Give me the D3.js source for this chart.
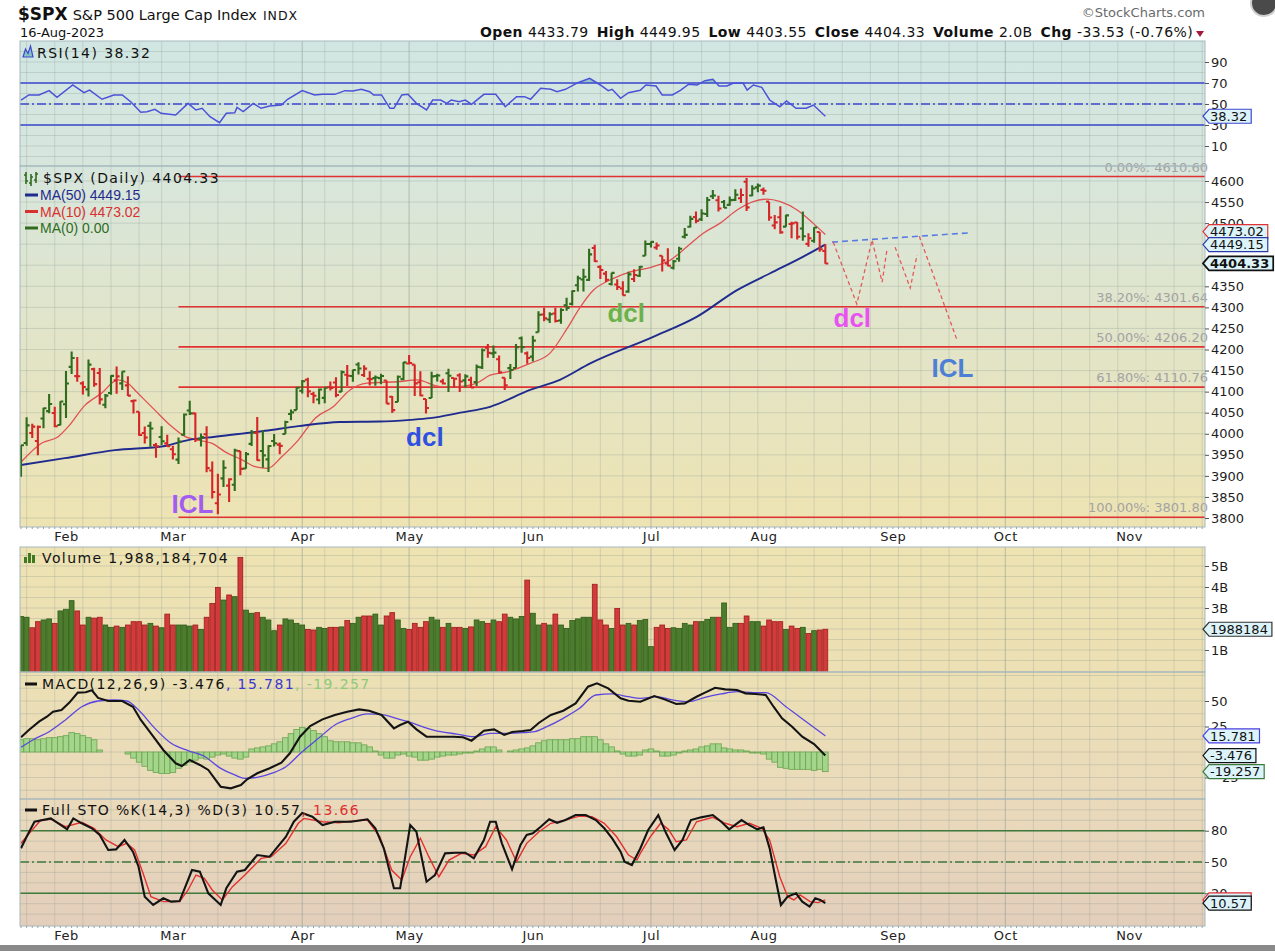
<!DOCTYPE html>
<html>
<head>
<meta charset="utf-8">
<title>$SPX S&amp;P 500 Large Cap Index</title>
<script src="https://cdn.jsdelivr.net/npm/d3@7"></script>
<style>
  body { margin: 0; background: #fff; }
  svg { display: block; }
</style>
</head>
<body>
<svg id="chart" width="1275" height="951"></svg>
<script>
// ---------------- trading calendar ----------------
const firstDay = "2023-01-20";
const lastAxisDay = "2023-11-20";
const holidays = ["2023-02-20", "2023-04-07", "2023-05-29", "2023-06-19", "2023-07-04", "2023-09-04", "2023-11-23"];

// ---------------- daily OHLC (Jan 20 .. Aug 16, 2023) ----------------
const prevClose = 3898.85;
const open = [3909.04,3978.14,4001.74,3982.71,4036.08,4053.72,4049.27,4020.85,4070.07,4158.68,
  4136.69,4119.57,4105.35,4153.47,4144.25,4068.92,4096.62,4126.70,4119.50,4114.75,
  4077.39,4052.35,4001.83,4018.60,3973.24,3992.36,3977.19,3963.34,3938.68,3998.02,
  4055.15,4048.26,3987.55,3998.66,3912.77,3835.12,3894.01,3876.74,3878.93,3958.69,
  3917.47,3975.89,4002.04,3959.21,3939.21,3982.93,3974.13,3999.53,4046.74,4056.18,
  4102.20,4128.03,4094.50,4081.15,4085.20,4110.29,4121.72,4100.04,4140.11,4137.17,
  4164.26,4139.33,4130.48,4132.14,4132.07,4126.43,4087.78,4075.29,4129.63,4166.79,
  4164.10,4122.25,4082.61,4084.73,4136.98,4124.25,4143.74,4132.24,4138.54,4126.65,
  4127.95,4122.85,4157.68,4204.15,4190.78,4176.80,4132.96,4155.71,4156.16,4226.71,
  4190.74,4183.03,4241.01,4282.99,4271.34,4285.47,4268.69,4304.88,4308.32,4352.61,
  4366.29,4365.33,4440.95,4396.11,4380.01,4355.40,4354.17,4344.84,4337.36,4367.48,
  4374.94,4422.44,4450.48,4442.04,4422.62,4404.54,4394.23,4415.55,4467.69,4491.50,
  4514.61,4508.86,4521.78,4563.87,4554.38,4550.16,4543.39,4555.19,4558.96,4598.26,
  4565.75,4584.82,4578.83,4550.93,4494.27,4513.96,4491.58,4498.03,4501.57,4487.16,
  4450.69,4458.13,4478.87,4433.79];
const high = [3972.96,4039.31,4023.92,4019.55,4061.57,4094.21,4063.85,4077.16,4148.95,4195.44,
  4182.36,4124.63,4176.54,4156.85,4156.23,4094.36,4138.90,4159.77,4148.11,4136.54,
  4081.51,4052.35,4017.37,4028.30,3978.25,4018.05,3997.50,3971.73,3990.84,4048.29,
  4078.49,4050.00,4000.41,4017.81,3934.05,3905.05,3937.29,3894.26,3964.46,3958.91,
  3956.62,4009.08,4039.49,4007.66,3972.74,3999.53,3979.20,4030.59,4057.85,4110.75,
  4127.66,4133.13,4099.69,4107.32,4109.50,4124.26,4134.37,4150.26,4163.19,4151.72,
  4169.48,4162.57,4148.57,4138.02,4142.41,4126.43,4089.67,4138.24,4170.06,4186.92,
  4164.10,4148.30,4082.61,4147.02,4142.30,4130.35,4154.28,4132.80,4143.74,4141.25,
  4135.54,4164.67,4202.20,4212.91,4209.22,4185.68,4132.96,4165.74,4212.87,4231.10,
  4195.44,4232.43,4290.67,4299.28,4288.33,4299.19,4298.01,4322.62,4340.13,4375.37,
  4391.82,4439.20,4448.47,4400.15,4386.22,4382.25,4366.55,4362.06,4384.42,4390.35,
  4398.39,4458.48,4456.46,4454.06,4422.62,4440.39,4412.60,4443.64,4488.34,4517.38,
  4527.76,4532.85,4562.30,4578.43,4564.74,4555.00,4563.41,4580.62,4582.47,4607.07,
  4590.16,4594.22,4584.62,4550.93,4519.49,4540.34,4519.84,4503.31,4502.44,4527.37,
  4476.23,4490.33,4478.87,4449.95];
const low = [3897.86,3971.64,3989.79,3949.06,4013.29,4048.70,4015.55,4020.44,4037.20,4141.88,
  4123.36,4093.38,4088.39,4111.67,4069.67,4060.79,4092.67,4095.01,4103.98,4089.49,
  4047.95,3995.19,3976.90,3969.19,3943.08,3973.55,3968.98,3939.05,3928.16,3995.17,
  4044.61,3980.31,3969.76,3908.70,3846.32,3808.86,3873.63,3838.24,3864.11,3901.27,
  3916.89,3971.19,3936.17,3919.05,3909.16,3969.76,3951.53,3999.53,4032.10,4056.18,
  4095.31,4086.87,4072.56,4069.84,4072.55,4102.61,4086.94,4099.40,4113.20,4123.18,
  4140.36,4134.49,4114.57,4113.86,4117.77,4071.38,4049.35,4075.29,4127.18,4164.12,
  4089.72,4088.86,4048.28,4084.73,4123.81,4116.65,4098.92,4109.29,4099.12,4110.27,
  4109.86,4113.62,4153.50,4180.20,4179.68,4142.54,4103.98,4129.73,4156.16,4192.18,
  4166.15,4171.64,4241.01,4266.82,4263.09,4263.96,4261.07,4291.70,4304.37,4337.66,
  4337.85,4362.60,4407.44,4367.19,4360.14,4351.82,4341.34,4328.08,4335.00,4360.22,
  4371.97,4422.44,4442.29,4436.61,4385.05,4397.40,4389.92,4408.46,4463.23,4489.36,
  4499.56,4504.90,4514.59,4557.48,4527.56,4535.79,4541.29,4552.42,4547.58,4528.56,
  4564.01,4573.14,4567.53,4505.75,4485.54,4474.55,4491.15,4464.39,4461.33,4457.92,
  4443.98,4453.44,4432.19,4403.55];
const close = [3972.61,4019.81,4016.95,4016.22,4060.43,4070.56,4017.77,4076.60,4119.21,4179.76,
  4136.48,4111.08,4164.00,4117.86,4081.50,4090.46,4137.29,4136.13,4147.60,4090.41,
  4079.09,3997.34,3991.05,4012.32,3970.04,3982.24,3970.15,3951.39,3981.35,4045.64,
  4048.42,3986.37,3992.01,3918.32,3861.59,3855.76,3919.29,3891.93,3960.28,3916.64,
  3951.57,4002.87,3936.97,3948.72,3970.99,3977.53,3971.27,4027.81,4050.83,4109.31,
  4124.51,4100.60,4090.38,4105.02,4109.11,4108.94,4091.95,4146.22,4137.64,4151.32,
  4154.87,4154.52,4129.79,4133.52,4137.04,4071.63,4055.99,4135.35,4169.48,4167.87,
  4119.58,4090.75,4061.22,4136.25,4138.12,4119.17,4137.64,4130.62,4124.08,4136.28,
  4109.90,4158.77,4198.05,4191.98,4192.63,4145.58,4115.24,4151.28,4205.45,4205.52,
  4179.83,4221.02,4282.37,4273.79,4283.85,4267.52,4293.93,4298.86,4338.93,4369.01,
  4372.59,4425.84,4409.59,4388.71,4365.69,4381.89,4348.33,4328.82,4378.41,4376.86,
  4396.44,4450.38,4455.59,4446.82,4411.59,4398.95,4409.53,4439.26,4472.16,4510.04,
  4505.42,4522.79,4554.98,4565.72,4534.87,4536.34,4554.64,4567.46,4566.75,4537.41,
  4582.23,4588.96,4576.73,4513.39,4501.89,4478.03,4518.44,4499.38,4467.71,4468.83,
  4464.05,4489.72,4437.86,4404.33];

// daily volume, billions of shares
const volumeB = [2.60,2.56,2.06,2.35,2.43,2.48,2.27,2.86,2.94,3.35,
  2.86,2.19,2.56,2.52,2.56,2.19,2.08,2.14,2.08,2.19,
  2.35,2.35,2.19,2.27,2.14,2.06,2.71,2.19,2.19,2.19,
  2.14,2.19,1.98,2.56,3.22,3.98,3.38,3.62,3.54,5.41,
  2.90,2.75,2.78,2.56,2.43,1.92,2.19,2.48,2.43,2.27,
  2.19,1.98,1.95,2.08,2.03,2.08,2.08,2.10,2.40,2.27,
  2.56,2.62,2.62,2.71,2.19,2.62,2.78,2.43,2.03,1.98,
  2.27,2.08,2.35,2.56,2.43,2.08,2.27,2.08,2.08,2.03,
  2.10,2.43,2.35,2.27,2.43,2.35,2.71,2.56,2.48,2.60,
  4.33,2.75,2.19,2.27,2.19,2.71,2.19,2.03,2.40,2.48,
  2.56,2.56,4.13,2.43,2.19,2.03,2.98,2.19,2.27,2.19,
  2.40,2.45,1.16,2.08,2.19,2.03,2.06,2.03,2.27,2.19,
  2.35,2.35,2.45,2.56,2.56,3.24,2.08,2.27,2.27,2.62,
  2.35,2.35,2.14,2.43,2.35,2.35,1.98,2.14,2.03,2.08,
  1.79,1.92,1.95,1.988184704];
const lastVolumeText = "1,988,184,704";

// moving averages: [trading-day index, value]
const ma50Pts = [[0.1,3926],[7.8,3942],[16.7,3961],[25.6,3971],[29.7,3985],[34.5,3993],[43.4,4007],
  [49.3,4018],[56.7,4028],[63.8,4029],[69.2,4033],[72.7,4037],[78.1,4050],[83.4,4064],[90.5,4104],
  [95.8,4128],[101.2,4167],[112.4,4230],[120.2,4278],[127.3,4341],[133.2,4381],[139,4420],[143,4449.15]];
const ma10Pts = [[0.1,3934],[3.7,3978],[6.6,3993],[8.4,4017],[11.4,4068],[14.3,4096],[17.2,4128],
  [19,4120],[20.8,4096],[23.8,4056],[26.8,4017],[29.2,3993],[31.5,3985],[34,3977],[36.3,3957],
  [39.3,3938],[41.6,3922],[43.9,3918],[46.4,3946],[49.3,3985],[52.3,4037],[55.5,4064],[58.5,4104],
  [61.5,4120],[67.4,4124],[70.4,4128],[74.5,4112],[77.5,4112],[81.1,4121],[83.4,4139],[86.4,4147],
  [90.5,4167],[94.1,4192],[97.1,4250],[99.4,4300],[101.7,4340],[104.7,4365],[107.8,4382],
  [112.4,4397],[115.4,4412],[118.4,4444],[121.3,4476],[124.3,4500],[127.3,4531],[130.2,4551],
  [132.6,4557],[135,4551],[138,4531],[140.8,4500],[143,4473.02]];

// RSI(14)
const rsiPts = [[0,53.8],[1.4,58.6],[3.2,58.6],[5,62.7],[6.4,56.4],[9.2,68.1],[11.2,60.8],[12.2,63.3],
  [14.4,54.5],[16.5,58.6],[18,58.6],[19.5,52.2],[21.3,42.1],[22.4,42.7],[23.8,44.9],[24.9,41.1],
  [27.5,39.5],[29.7,50.6],[31.1,44.3],[32.2,45.9],[33.6,37.9],[35.3,32.2],[36.5,41.1],[38,41.7],
  [38.4,46.8],[39.5,42.7],[41.3,50.6],[42.7,45.9],[44.2,48.1],[46.3,49],[47.4,54.5],[50,62.7],
  [52.2,58.6],[53.6,59.2],[55.8,59.2],[57.6,62.7],[59,62.5],[60.5,64],[62,61.7],[62.7,58.6],
  [64.1,58.6],[65.6,45.9],[66.3,45.9],[67.7,58.6],[68.8,59.2],[70.3,50.6],[72.1,44.3],[73.2,53.8],
  [74.6,53.8],[75.7,50.6],[76.5,53.8],[77.9,52.2],[79,53.8],[80.1,49.7],[82.3,59.2],[84.4,59.2],
  [86.1,47.4],[88.1,57],[89.5,57],[90.6,54.5],[92.4,65],[94.2,64],[95.3,61.7],[96.8,64],[99,70.3],
  [101.1,74.5],[103,68.1],[104.4,62.7],[105.1,64],[106.6,55.4],[108,60.8],[110.1,63],[111.1,68.1],
  [112.9,67.1],[114,58.6],[115.8,58.6],[117.3,63.3],[118.7,68.8],[120.2,68.1],[121.6,72.2],
  [123,73.5],[124.1,67.1],[125.5,67.1],[126.6,69.7],[128.4,69.7],[129.1,63.3],[130.2,68.1],
  [131.7,65.9],[133.1,53.8],[134.9,47.4],[136.1,52.9],[137.8,45.9],[139.6,45.9],[140.9,49],[143,38.32]];

// MACD(12,26,9)
const macdPts = [[0,14.4],[1.4,21.6],[3.2,29.7],[4.6,34.6],[5.7,39.5],[7.2,41.2],[8.6,48.4],[10.1,58.2],
  [11.5,58.5],[12.6,60.5],[13.7,53],[15.5,50],[18,50],[19.9,44.4],[21.3,31.4],[23.1,18.3],[25.3,2],
  [27.5,-11.1],[28.6,-13.7],[30,-7.8],[31.8,-12.7],[33.3,-17.6],[34.4,-25.8],[35.5,-34],[37.3,-35.6],
  [39.1,-32.4],[40.2,-26.8],[42,-20.9],[44.2,-16],[46.3,-10.5],[47.8,-1.3],[49.6,15],[51.4,25.5],
  [53.6,32],[55.8,36.3],[58,39.5],[60.1,41.8],[61.9,40.5],[64.1,36.3],[66.3,23.2],[67.4,26.5],
  [68.8,29.7],[70.3,22.2],[72.1,15],[74.6,15],[76.8,15],[78.6,14.4],[80.1,11.1],[82.3,20.9],
  [84.1,22.2],[85.9,16.7],[87.3,19.6],[89.2,20.6],[90.6,21.6],[92.1,28.7],[94.2,36.3],[96.4,40.5],
  [98.6,47.7],[100.8,64],[102.4,67.3],[104.4,62.4],[106.6,52.6],[108,50.3],[110.1,49.3],[112.6,54.9],
  [114.4,51.6],[116.5,47.1],[118,47.7],[120.1,54.2],[121.6,58.2],[123.4,63],[125.2,61.4],[127.3,60.8],
  [128.8,57.5],[130.6,56.9],[132.4,55.9],[133.8,44.4],[135.3,33],[137.1,24.8],[138.9,15],[141,7.8],
  [143,-3.476]];
const signalPts = [[0,4.6],[2.1,11.8],[5,19.9],[7.9,31.4],[10.8,44.4],[13.7,50],[16.6,51],[18.8,50],
  [20.9,41.2],[23.8,23.2],[26.7,8.5],[29.7,1.3],[32.5,-3.9],[35.5,-16],[38,-22.5],[39.8,-25.8],
  [42,-24.8],[44.9,-20.3],[47.1,-14.4],[50,0.3],[52.9,13.4],[55.8,26.5],[58.7,33],[61.6,37.3],
  [64.5,36.3],[66.7,33],[68.8,29.7],[71.7,24.2],[74.6,19.9],[77.5,17.6],[80.5,15],[83.4,18.3],
  [86.3,18.3],[89.2,18.9],[91.3,19.9],[93.5,24.8],[96.4,33],[99.3,42.8],[102.2,55.9],[105.1,56.9],
  [108,54.2],[110.1,52.6],[112.9,54.2],[115.8,51],[118.7,49.3],[121.6,53.6],[124.5,56.9],[127.3,59.1],
  [130.2,58.2],[132.4,58.2],[136,44.4],[139.6,29.7],[143,15.781]];
const histogram = [12,13,13,12,13,14,14,15,16,19,
  18,16,14,12,2,0,0,0,0,-2,
  -6,-10,-14,-18,-20,-21,-21,-20,-16,-13,
  -10,-8,-6,-7,-5,-3,-2,-4,-6,-7,
  -5,3,4,5,6,8,10,14,18,22,
  24,23,21,18,15,11,10,10,10,9,
  9,7,5,1,-3,-6,-6,-3,-2,-4,
  -5,-8,-8,-7,-5,-4,-3,-3,-2,-1,
  -1,1,3,5,5,2,0,1,2,3,
  4,6,9,11,12,12,12,12,13,13,
  15,15,15,12,8,5,1,-2,-4,-4,
  -3,2,3,1,-4,-4,-3,-1,1,2,
  3,5,6,8,8,4,3,2,2,1,
  -1,-1,-2,-7,-10,-15,-16,-17,-17,-17,
  -17,-18,-17,-19.257];

// Full STO %K(14,3) %D(3)
const stoKPts = [[0,63.1],[1,74.2],[2.4,88.6],[5.3,91.8],[7.1,85.4],[8.2,81.3],[9.3,91.8],[10.8,87.1],
  [12.6,82.3],[14,75.9],[15.5,61.5],[16.9,62.1],[18.4,71.1],[19.9,59.9],[20.9,45.5],[22,16.8],
  [23.5,8.8],[25.3,15.2],[26.7,12],[28.2,12.6],[30.4,42.3],[31.8,40.7],[33.3,20],[35.5,8.8],
  [36.5,24.8],[38.4,40.7],[39.8,42.3],[42,56.7],[44.2,55.1],[47.1,74.2],[48.5,88.6],[50,97],
  [51.8,93.4],[53.6,85.4],[55.8,88.6],[58.7,88.6],[61.6,90.9],[63,82.3],[64.5,63.1],[66.3,24.8],
  [67.4,24.8],[69.2,85.4],[70.3,79],[72.1,31.1],[73.6,37.5],[75.4,58.3],[77.2,58.9],[79,58.9],
  [80.5,53.5],[82.3,71.1],[83.4,88.6],[84.4,88.6],[85.5,67.9],[87.3,43],[88.8,66.3],[89.9,75.9],
  [91,77.5],[92.4,83.8],[93.9,90.9],[95.3,87.6],[96.8,90.2],[98.6,95],[100.4,95],[102.2,90.2],
  [103.7,82.3],[105.1,72.7],[106.6,59.9],[107.3,50.3],[108.6,47.1],[110.1,63],[111.5,80.7],
  [113.3,95],[114.7,77.5],[116.2,61.5],[117.6,71.1],[119.1,90.2],[120.9,92.8],[123,95],[124.5,88.6],
  [125.9,81.3],[128.1,90.2],[129.5,85.4],[130.9,81.3],[132,83.2],[133.1,63.1],[134.2,32.8],
  [135.1,8.8],[136.3,16.8],[137.8,20],[138.9,12],[140.2,7.2],[141.2,15.2],[142.1,13.6],[143,10.57]];
const stoDPts = [[0,68],[1.4,77],[3.5,90],[5.3,91],[7.9,83.8],[10.8,88],[13,82.3],[15.1,71.1],
  [17.3,64.7],[18.8,67.9],[20.2,61.5],[21.7,39.2],[23.1,16.8],[25.3,12],[28.2,12],[29.7,23.2],
  [31.1,37.5],[32.6,34.4],[34,23.2],[35.8,13.6],[37.6,26.4],[39.8,37.5],[42.7,53.5],[44.5,55.1],
  [47.1,67.9],[49.3,87.1],[50.3,91.8],[53.6,88.6],[56.5,87.6],[59.4,89.6],[61.6,90.2],[63.8,74.2],
  [65.9,42.3],[67.7,32.8],[69.2,55.1],[71,72.7],[72.5,55.1],[74.3,35.9],[76.1,51.9],[78.3,58.3],
  [80.5,56.7],[82.6,64.7],[84.4,83.8],[86.3,71.1],[88.1,50.3],[89.9,67.9],[92.1,79],[94.2,87.1],
  [96.4,89.6],[99.3,94],[101.5,93.4],[103.7,87.1],[105.9,74.2],[108,56.7],[109.5,51.9],[110.1,58.3],
  [111.9,74.2],[113.7,87.1],[115.1,81.3],[116.5,69.4],[118.3,71.1],[120.1,88.6],[123,92.8],
  [125.2,87.1],[127.3,83.8],[129.5,87.1],[131.7,82.3],[133.1,71.1],[134.9,35.9],[136.3,16.8],
  [137.4,13.6],[138.5,18.4],[140.3,12],[141.7,11.1],[143,13.66]];

// Fibonacci retracement levels
const fibStartDay = 28;
const fibPct = ["0.00%", "38.20%", "50.00%", "61.80%", "100.00%"];
const fibLevels = [4610.60, 4301.64, 4206.20, 4110.76, 3801.80];

// projected path and hand-drawn notes
const trendLine = [[144.2, 4455], [168.7, 4477]];
const projection = [
  [[144.4, 4455], [148.6, 4308], [151.3, 4460], [153.1, 4360], [154, 4441]],
  [[155.4, 4443], [158.1, 4346], [159.3, 4424]],
  [[159.7, 4469], [166.4, 4223]]
];
const notes = [
  { text: "ICL", day: 30.5, price: 3812, color: "#a35cf2" },
  { text: "dcl", day: 71.8, price: 3971, color: "#2f50e0" },
  { text: "dcl", day: 107.6, price: 4265, color: "#6cb24c" },
  { text: "dcl", day: 147.8, price: 4253, color: "#e852f0" },
  { text: "ICL", day: 165.6, price: 4135, color: "#4c7fd6" }
];

// axis tick values per panel
const rsiTicks = [10, 30, 50, 70, 90];
const priceTicks = [3800, 3850, 3900, 3950, 4000, 4050, 4100, 4150, 4200, 4250, 4300, 4350, 4500, 4550, 4600];
const volumeTicks = [1, 3, 4, 5];
const macdTicks = [-25, 25, 50];
const stoTicks = [20, 50, 80];

// header quote
const quote = { open: 4433.79, high: 4449.95, low: 4403.55, close: 4404.33, volume: "2.0B", chg: -33.53, chgPct: -0.76 };

// ---------------- layout ----------------
const X0 = 20, X1 = 1205;
const panels = {
  rsi:  { top: 41,  bottom: 166 },
  main: { top: 166, bottom: 527 },
  vol:  { top: 547, bottom: 672 },
  macd: { top: 672, bottom: 799 },
  sto:  { top: 799, bottom: 926 }
};
const UP = "#2f6c1d", DOWN = "#d42626";
const LEGEND_FONT = "DejaVu Sans";

const parse = d3.utcParse("%Y-%m-%d");
const fmtDay = d3.utcFormat("%Y-%m-%d");
const days = [];
for (let d = parse(firstDay); d <= parse(lastAxisDay); d = d3.utcDay.offset(d, 1)) {
  const wd = d.getUTCDay();
  if (wd === 0 || wd === 6 || holidays.includes(fmtDay(d))) continue;
  days.push(d);
}
const nBars = close.length;
const monthStarts = [], weekStarts = [];
days.forEach((d, i) => {
  if (i === 0) return;
  if (d.getUTCMonth() !== days[i - 1].getUTCMonth()) monthStarts.push(i);
  if (+d3.utcMonday.floor(d) !== +d3.utcMonday.floor(days[i - 1])) weekStarts.push(i);
});

const x = d3.scaleLinear().domain([0, days.length - 0.5]).range([21, X1]);
const step = x(1) - x(0);

const yRsi = d3.scaleLinear().domain([0, 100]).range([156.5, 51.5]);
const yP = d3.scaleLinear().domain([3800, 4600]).range([518, 181]);
const yV = d3.scaleLinear().domain([0, 5]).range([671, 566]);
const yM = d3.scaleLinear().domain([-25, 50]).range([777.5, 701]);
const yS = d3.scaleLinear().domain([20, 80]).range([893.3, 830.7]);

const upDay = i => close[i] >= (i === 0 ? prevClose : close[i - 1]);

const svg = d3.select("#chart");
const defs = svg.append("defs");

const grad = defs.append("linearGradient").attr("id", "panelBg")
  .attr("gradientUnits", "userSpaceOnUse").attr("x1", 0).attr("y1", 41).attr("x2", 0).attr("y2", 926);
[[0, "#d1e6e2"], [0.14, "#d7e6dd"], [0.3, "#e0e5cc"], [0.55, "#eee3b2"], [0.71, "#ece0b4"], [0.86, "#eadabb"], [1, "#e3cebb"]]
  .forEach(([o, c]) => grad.append("stop").attr("offset", o).attr("stop-color", c));

Object.entries(panels).forEach(([id, p]) => {
  defs.append("clipPath").attr("id", "clip-" + id).append("rect")
    .attr("x", X0).attr("y", p.top).attr("width", X1 - X0).attr("height", p.bottom - p.top);
  svg.append("rect").attr("x", X0).attr("y", p.top).attr("width", X1 - X0).attr("height", p.bottom - p.top)
    .attr("fill", "url(#panelBg)");
});

// ---------------- grids ----------------
const gridLevels = {
  rsi: d3.range(0, 101, 10).map(yRsi),
  main: d3.range(3800, 4651, 50).map(yP),
  vol: d3.range(0.5, 6, 0.5).map(yV),
  macd: d3.range(-37.5, 76, 12.5).map(yM),
  sto: d3.range(0, 101, 10).map(yS)
};
Object.entries(panels).forEach(([id, p]) => {
  const g = svg.append("g").attr("clip-path", `url(#clip-${id})`);
  g.selectAll("line.h").data(gridLevels[id]).join("line")
    .attr("x1", X0).attr("x2", X1).attr("y1", d => d).attr("y2", d => d)
    .attr("stroke", "#8c9a92").attr("stroke-opacity", 0.3).attr("stroke-width", 1);
  g.selectAll("line.w").data(weekStarts).join("line")
    .attr("x1", d => x(d)).attr("x2", d => x(d)).attr("y1", p.top).attr("y2", p.bottom)
    .attr("stroke", "#8c9a92").attr("stroke-opacity", d => monthStarts.includes(d) ? 0.55 : 0.28).attr("stroke-width", 1);
});

// ---------------- RSI panel ----------------
const gR = svg.append("g").attr("clip-path", "url(#clip-rsi)");
defs.append("clipPath").attr("id", "clip-ob").append("rect")
  .attr("x", X0).attr("y", panels.rsi.top).attr("width", X1 - X0).attr("height", yRsi(70) - panels.rsi.top);
gR.append("path").datum(rsiPts).attr("clip-path", "url(#clip-ob)")
  .attr("d", d3.area().x(d => x(d[0])).y0(yRsi(70)).y1(d => yRsi(d[1])))
  .attr("fill", "#77b7b5").attr("fill-opacity", 0.7);
[70, 30].forEach(v => gR.append("line").attr("x1", X0).attr("x2", X1).attr("y1", yRsi(v)).attr("y2", yRsi(v))
  .attr("stroke", "#3d49cf").attr("stroke-width", 1.5));
gR.append("line").attr("x1", X0).attr("x2", X1).attr("y1", yRsi(50)).attr("y2", yRsi(50))
  .attr("stroke", "#3d49cf").attr("stroke-width", 1.3).attr("stroke-dasharray", "9,3,2,3");
gR.append("path").datum(rsiPts).attr("d", d3.line().x(d => x(d[0])).y(d => yRsi(d[1])))
  .attr("fill", "none").attr("stroke", "#4b52d8").attr("stroke-width", 1.5);

// ---------------- price panel ----------------
const gP = svg.append("g").attr("clip-path", "url(#clip-main)");
gP.selectAll("line.fib").data(fibLevels).join("line")
  .attr("x1", x(fibStartDay)).attr("x2", X1).attr("y1", d => yP(d)).attr("y2", d => yP(d))
  .attr("stroke", "#e03232").attr("stroke-width", 1.6);
svg.append("g").selectAll("text").data(fibLevels).join("text")
  .attr("x", 1208).attr("y", d => yP(d) - 5).attr("text-anchor", "end")
  .attr("font-family", LEGEND_FONT).attr("font-size", 13).attr("fill", "#a3a3a3")
  .text((d, i) => `${fibPct[i]}: ${d.toFixed(2)}`);

const maLine = d3.line().x(d => x(d[0])).y(d => yP(d[1])).curve(d3.curveMonotoneX);
gP.append("path").datum(ma10Pts).attr("d", maLine).attr("fill", "none").attr("stroke", "#e05252").attr("stroke-width", 1.3);
gP.append("path").datum(ma50Pts).attr("d", maLine).attr("fill", "none").attr("stroke", "#1f2b8e").attr("stroke-width", 1.9);

gP.selectAll("path.bar").data(d3.range(nBars)).join("path")
  .attr("d", i => {
    const cx = x(i);
    return `M${cx},${yP(high[i])}V${yP(low[i])}M${cx - 3},${yP(open[i])}H${cx}M${cx},${yP(close[i])}H${cx + 3}`;
  })
  .attr("fill", "none").attr("stroke", i => upDay(i) ? UP : DOWN).attr("stroke-width", 2.1);

gP.append("path").datum(trendLine).attr("d", d3.line().x(d => x(d[0])).y(d => yP(d[1])))
  .attr("fill", "none").attr("stroke", "#5a7ce2").attr("stroke-width", 1.6).attr("stroke-dasharray", "6,4");
projection.forEach(seg => gP.append("path").datum(seg).attr("d", d3.line().x(d => x(d[0])).y(d => yP(d[1])))
  .attr("fill", "none").attr("stroke", "#e35b5b").attr("stroke-width", 1.3).attr("stroke-dasharray", "4,3"));

gP.selectAll("text.note").data(notes).join("text")
  .attr("x", d => x(d.day)).attr("y", d => yP(d.price)).attr("text-anchor", "middle")
  .attr("font-family", "Liberation Sans, Arial, sans-serif").attr("font-weight", "bold").attr("font-size", 26)
  .attr("fill", d => d.color).text(d => d.text);

// ---------------- volume panel ----------------
const gV = svg.append("g").attr("clip-path", "url(#clip-vol)");
gV.selectAll("rect").data(d3.range(nBars)).join("rect")
  .attr("x", i => x(i) - step / 2 + 0.4).attr("width", step - 0.8)
  .attr("y", i => yV(volumeB[i])).attr("height", i => yV(0) - yV(volumeB[i]) + 2)
  .attr("fill", i => upDay(i) ? "#4c7d2c" : "#d23b3b")
  .attr("stroke", i => upDay(i) ? "#2d5a18" : "#9c1c1c").attr("stroke-width", 0.8);

// ---------------- MACD panel ----------------
const gM = svg.append("g").attr("clip-path", "url(#clip-macd)");
gM.selectAll("rect").data(histogram).join("rect")
  .attr("x", (d, i) => x(i) - step / 2).attr("width", step)
  .attr("y", d => Math.min(yM(d), yM(0))).attr("height", d => Math.abs(yM(d) - yM(0)))
  .attr("fill", "#a5d48b").attr("stroke", "#6aa551").attr("stroke-width", 0.8);
gM.append("path").datum(signalPts).attr("d", d3.line().x(d => x(d[0])).y(d => yM(d[1])).curve(d3.curveMonotoneX))
  .attr("fill", "none").attr("stroke", "#5b46e0").attr("stroke-width", 1.3);
gM.append("path").datum(macdPts).attr("d", d3.line().x(d => x(d[0])).y(d => yM(d[1])))
  .attr("fill", "none").attr("stroke", "#141414").attr("stroke-width", 2.1);

// ---------------- STO panel ----------------
const gS = svg.append("g").attr("clip-path", "url(#clip-sto)");
[80, 20].forEach(v => gS.append("line").attr("x1", X0).attr("x2", X1).attr("y1", yS(v)).attr("y2", yS(v))
  .attr("stroke", "#3f7a3c").attr("stroke-width", 1.6));
gS.append("line").attr("x1", X0).attr("x2", X1).attr("y1", yS(50)).attr("y2", yS(50))
  .attr("stroke", "#3f7a3c").attr("stroke-width", 1.4).attr("stroke-dasharray", "9,3,2,3");
const sLine = d3.line().x(d => x(d[0])).y(d => yS(d[1]));
gS.append("path").datum(stoDPts).attr("d", sLine).attr("fill", "none").attr("stroke", "#e33030").attr("stroke-width", 1.4);
gS.append("path").datum(stoKPts).attr("d", sLine).attr("fill", "none").attr("stroke", "#141414").attr("stroke-width", 2.1);

// ---------------- panel borders & day ticks ----------------
Object.values(panels).forEach(p => svg.append("rect").attr("x", X0).attr("y", p.top)
  .attr("width", X1 - X0).attr("height", p.bottom - p.top).attr("fill", "none").attr("stroke", "#a6b7bc").attr("stroke-width", 1));
[panels.main.bottom, panels.sto.bottom].forEach(yb => svg.append("g").selectAll("line").data(d3.range(days.length)).join("line")
  .attr("x1", i => x(i)).attr("x2", i => x(i)).attr("y1", yb).attr("y2", yb + 2)
  .attr("stroke", "#9aa3a3").attr("stroke-width", 1));

// ---------------- axes ----------------
function styleAxis(g) {
  g.select(".domain").remove();
  g.selectAll(".tick line").attr("stroke", "#555");
  g.selectAll(".tick text").attr("font-family", LEGEND_FONT).attr("font-size", 13).attr("fill", "#1e1e1e");
}
svg.append("g").attr("transform", `translate(${X1},0)`)
  .call(d3.axisRight(yRsi).tickValues(rsiTicks).tickSize(4).tickPadding(2)).call(styleAxis);
svg.append("g").attr("transform", `translate(${X1},0)`)
  .call(d3.axisRight(yP).tickValues(priceTicks).tickSize(4).tickPadding(2).tickFormat(d3.format("d"))).call(styleAxis);
svg.append("g").attr("transform", `translate(${X1},0)`)
  .call(d3.axisRight(yV).tickValues(volumeTicks).tickSize(4).tickPadding(2).tickFormat(d => d + "B")).call(styleAxis);
svg.append("g").attr("transform", `translate(${X1},0)`)
  .call(d3.axisRight(yM).tickValues(macdTicks).tickSize(4).tickPadding(2)).call(styleAxis);
svg.append("g").attr("transform", `translate(${X1},0)`)
  .call(d3.axisRight(yS).tickValues(stoTicks).tickSize(4).tickPadding(2)).call(styleAxis);

const monthFmt = d3.utcFormat("%b");
[[panels.main.bottom, 5.2], [panels.sto.bottom, 4.4]].forEach(([yb, pad]) => {
  svg.append("g").attr("transform", `translate(0,${yb})`)
    .call(d3.axisBottom(x).tickValues(monthStarts).tickSize(0).tickPadding(pad).tickFormat(i => monthFmt(days[i])))
    .call(g => {
      g.select(".domain").remove();
      g.selectAll("text").attr("font-family", LEGEND_FONT).attr("font-size", 13).attr("letter-spacing", 0.5).attr("fill", "#222");
    });
});

// ---------------- value tags ----------------
const tagLayer = svg.append("g");
function valueTag(cy, label, stroke, bold) {
  const g = tagLayer.append("g");
  const shape = g.append("path");
  const t = g.append("text").attr("x", 1210).attr("y", cy + 4.6).text(label)
    .attr("font-family", LEGEND_FONT).attr("font-size", 13).attr("font-weight", bold ? "bold" : "normal").attr("fill", "#111");
  const w = t.node().getComputedTextLength();
  const x0 = 1203, x1 = 1212 + w + 2;
  shape.attr("d", `M${x0},${cy}L${x0 + 6},${cy - 7}H${x1}V${cy + 7}H${x0 + 6}Z`)
    .attr("fill", "#dcf3fa").attr("stroke", stroke).attr("stroke-width", bold ? 1.7 : 1.2);
}
function stackedTags(items) {
  const ys = items.map(d => d.y);
  for (let i = ys.length - 2; i >= 0; i--) if (ys[i] > ys[i + 1] - 13) ys[i] = ys[i + 1] - 13;
  items.forEach((d, i) => valueTag(ys[i], d.label, d.stroke, d.bold));
}
const lastRsi = rsiPts[rsiPts.length - 1][1];
valueTag(yRsi(lastRsi), lastRsi.toFixed(2), "#3d49cf", false);
const lastMa10 = ma10Pts[ma10Pts.length - 1][1], lastMa50 = ma50Pts[ma50Pts.length - 1][1], lastClose = close[nBars - 1];
stackedTags([
  { y: yP(lastMa10), label: lastMa10.toFixed(2), stroke: "#e03232" },
  { y: yP(lastMa50), label: lastMa50.toFixed(2), stroke: "#2a3aa8" },
  { y: yP(lastClose), label: lastClose.toFixed(2), stroke: "#111", bold: true }
]);
const lastVol = volumeB[nBars - 1];
valueTag(yV(lastVol), String(Math.round(lastVol * 1e9)).slice(0, 7), "#333", false);
const lastSignal = signalPts[signalPts.length - 1][1], lastMacd = macdPts[macdPts.length - 1][1], lastHist = histogram[nBars - 1];
valueTag(yM(lastSignal), lastSignal.toFixed(3), "#4a3fe0", false);
valueTag(yM(lastMacd), lastMacd.toFixed(3), "#111", false);
valueTag(yM(lastHist), lastHist.toFixed(3), "#3c7a3c", false);
const lastK = stoKPts[stoKPts.length - 1][1], lastD = stoDPts[stoDPts.length - 1][1];
valueTag(yS(lastD), lastD.toFixed(2), "#e03232", false);
valueTag(yS(lastK), lastK.toFixed(2), "#111", false);

// ---------------- legends ----------------
function legendText(xp, yp, parts, opts = {}) {
  const t = svg.append("text").attr("x", xp).attr("y", yp)
    .attr("font-family", opts.family || LEGEND_FONT).attr("font-size", opts.size || 14)
    .attr("letter-spacing", opts.spacing === undefined ? 1.4 : opts.spacing);
  parts.forEach(([s, c]) => t.append("tspan").attr("fill", c).text(s));
  return t;
}
// RSI
svg.append("path").attr("d", "M23,57L25.5,49L28,53.5L30.5,46L33,57Z").attr("fill", "#86c2c4").attr("stroke", "#3d49cf").attr("stroke-width", 1.2);
legendText(37, 57.5, [[`RSI(14) ${lastRsi.toFixed(2)}`, "#111"]]);
// price
svg.append("path").attr("d", "M26,172V184M24,175H26M26,181H28M31,174V186M29,183H31M31,177H33M36,172V183M34,180H36M36,174H38")
  .attr("stroke", UP).attr("stroke-width", 1.6).attr("fill", "none");
legendText(43, 183, [[`$SPX (Daily) ${lastClose.toFixed(2)}`, "#111"]]);
const maLegend = [[`MA(50) ${lastMa50.toFixed(2)}`, "#1f2b8e", 200], [`MA(10) ${lastMa10.toFixed(2)}`, "#d93030", 216.5], ["MA(0) 0.00", "#2f6c1d", 233]];
maLegend.forEach(([s, c, yy]) => {
  svg.append("line").attr("x1", 25).attr("x2", 38).attr("y1", yy - 5).attr("y2", yy - 5).attr("stroke", c).attr("stroke-width", 3);
  legendText(40, yy, [[s, c]], { family: "Liberation Sans, Arial, sans-serif", spacing: 0 });
});
// volume
svg.append("path").attr("d", "M24,563V557H27V563ZM28,563V553H31V563ZM32,563V555H35V563Z").attr("fill", "#3f7a22");
legendText(42, 563, [[`Volume ${lastVolumeText}`, "#111"]]);
// MACD
svg.append("line").attr("x1", 25).attr("x2", 37).attr("y1", 684).attr("y2", 684).attr("stroke", "#111").attr("stroke-width", 3);
legendText(42, 689, [[`MACD(12,26,9) ${lastMacd.toFixed(3)}`, "#111"], [`, ${lastSignal.toFixed(3)}`, "#3a36d0"], [`, ${lastHist.toFixed(3)}`, "#8dcb77"]]);
// STO
svg.append("line").attr("x1", 25).attr("x2", 37).attr("y1", 810).attr("y2", 810).attr("stroke", "#111").attr("stroke-width", 3);
legendText(42, 815, [[`Full STO %K(14,3) %D(3) ${lastK.toFixed(2)}`, "#111"], [`, ${lastD.toFixed(2)}`, "#e03030"]]);

// ---------------- header ----------------
const head = svg.append("text").attr("x", 18).attr("y", 20).attr("font-family", LEGEND_FONT).attr("fill", "#111");
head.append("tspan").attr("font-weight", "bold").attr("font-size", 17).text("$SPX");
head.append("tspan").attr("font-size", 14.5).attr("dx", 5).text("S&P 500 Large Cap Index");
head.append("tspan").attr("font-size", 12.5).attr("dx", 6).attr("letter-spacing", 1).text("INDX");
svg.append("text").attr("x", 20).attr("y", 37).attr("font-family", LEGEND_FONT).attr("font-size", 13).attr("fill", "#111").text("16-Aug-2023");
svg.append("text").attr("x", 1205).attr("y", 17).attr("text-anchor", "end").attr("font-family", LEGEND_FONT)
  .attr("font-size", 13).attr("fill", "#6a6a6a").text("©StockCharts.com");

const q = svg.append("text").attr("x", 1193).attr("y", 37).attr("text-anchor", "end")
  .attr("font-family", LEGEND_FONT).attr("font-size", 14).attr("letter-spacing", 0.4).attr("fill", "#111");
[["Open", quote.open.toFixed(2)], ["High", quote.high.toFixed(2)], ["Low", quote.low.toFixed(2)],
 ["Close", quote.close.toFixed(2)], ["Volume", quote.volume],
 ["Chg", `${quote.chg.toFixed(2)} (${quote.chgPct.toFixed(2)}%)`]].forEach(([k, v], i) => {
  q.append("tspan").attr("font-weight", "bold").attr("dx", i ? 8 : 0).text(k);
  q.append("tspan").attr("dx", 5).text(v);
});
svg.append("path").attr("d", "M1196,31H1204L1200,37Z").attr("fill", "#a3173a");

// window control in the corner
svg.append("circle").attr("cx", 1264).attr("cy", 3).attr("r", 13).attr("fill", "#4a4a4a").attr("stroke", "#cfcfcf").attr("stroke-width", 2);
// bottom frame bar
svg.append("rect").attr("x", 0).attr("y", 945).attr("width", 1275).attr("height", 6).attr("fill", "#8a8a8a");
</script>
</body>
</html>
